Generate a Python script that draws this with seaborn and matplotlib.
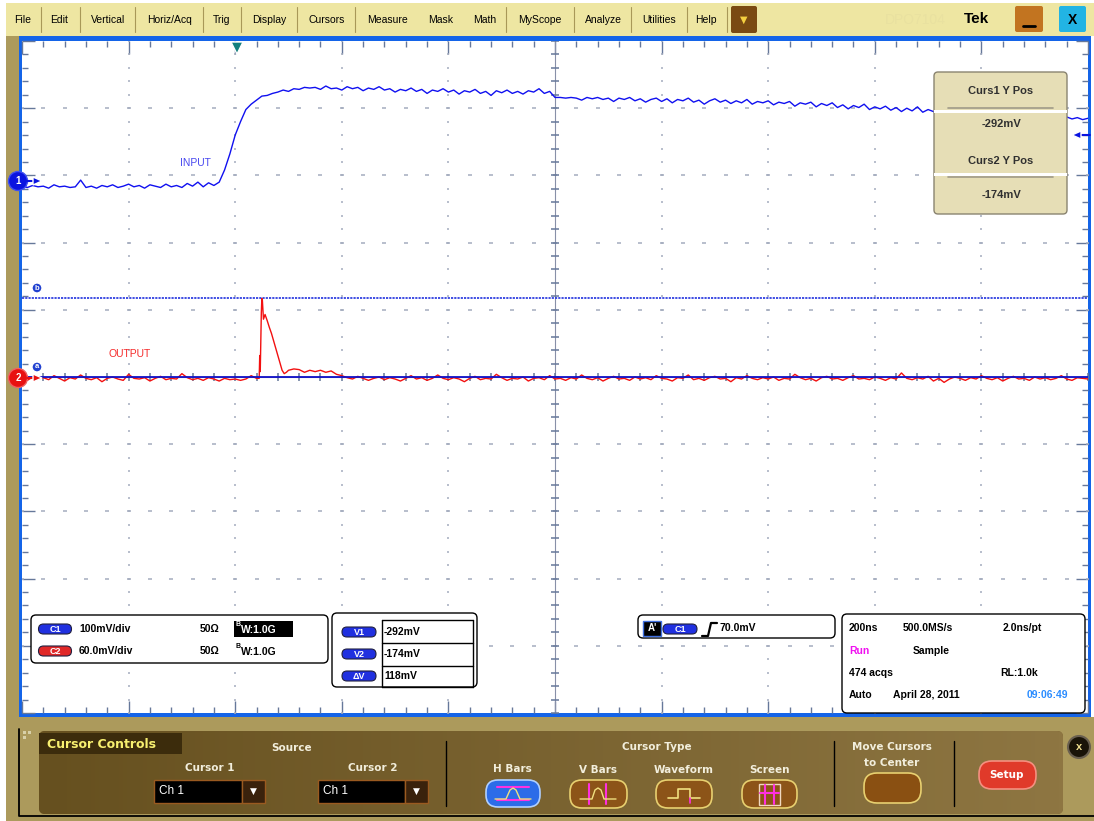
# capture oscilloscope : INPUT / OUTPUT
import numpy as np
import pandas as pd
import matplotlib
matplotlib.use("Agg")
import matplotlib.pyplot as plt
import seaborn as sns
from matplotlib.patches import Rectangle, FancyBboxPatch, Polygon, Circle
from matplotlib.colors import LinearSegmentedColormap

t_in = list(range(-400, 1601, 10))
v_in = [
    # ligne de base avant le front
    2.84, 2.82, 2.85, 2.83, 2.84, 2.81, 2.86, 2.83, 2.84, 2.82,
    2.83, 2.93, 2.82, 2.84, 2.81, 2.85, 2.83, 2.86, 2.82, 2.84,
    2.87, 2.83, 2.85, 2.81, 2.86, 2.84, 2.82, 2.87, 2.83, 2.85,
    2.82, 2.88, 2.84, 2.90, 2.83, 2.89, 2.85,
    # front montant
    2.90, 3.08, 3.32, 3.60, 3.80, 3.98, 4.06, 4.12, 4.18, 4.19,
    4.22, 4.24, 4.27, 4.25, 4.29, 4.28, 4.31, 4.30,
    # palier
    4.31, 4.28, 4.33, 4.29, 4.30, 4.27, 4.32, 4.29, 4.31, 4.26,
    4.30, 4.28, 4.32, 4.27, 4.29, 4.24, 4.28, 4.26, 4.30, 4.25,
    4.28, 4.22, 4.27, 4.25, 4.29, 4.24, 4.27, 4.21, 4.26, 4.24,
    4.28, 4.22, 4.25, 4.19, 4.26, 4.23, 4.27, 4.22, 4.25, 4.21,
    4.26, 4.24, 4.29, 4.22, 4.25,
    # lente décroissance
    4.16, 4.16, 4.15, 4.16, 4.15, 4.12, 4.16, 4.14, 4.16, 4.13,
    4.15, 4.10, 4.15, 4.13, 4.16, 4.11, 4.14, 4.09, 4.13, 4.15,
    4.10, 4.14, 4.08, 4.13, 4.11, 4.15, 4.09, 4.12, 4.06, 4.11,
    4.14, 4.09, 4.12, 4.07, 4.11, 4.08, 4.13, 4.06, 4.10, 4.08,
    4.11, 4.05, 4.09, 4.07, 4.10, 4.03, 4.08, 4.06, 4.09, 4.02,
    4.07, 4.04, 4.08, 4.01, 4.05, 3.99, 4.04, 4.01, 4.06, 3.98,
    4.02, 3.99, 4.03, 3.97, 4.01, 3.95, 4.00, 3.96, 4.02, 3.94,
    3.98, 3.95, 3.93, 3.97, 3.92, 3.95, 3.91, 3.94, 3.90, 3.93,
    3.89, 3.92, 3.88, 3.91, 3.87, 3.90, 3.88, 3.86, 3.89, 3.87,
    3.85, 3.88, 3.86, 3.84, 3.87, 3.85, 3.87, 3.84, 3.86, 3.83,
    3.85,
]

t_spike = [45, 46, 47, 49, 50, 51, 53, 56, 60, 64, 68, 72, 76, 80, 84, 88, 92, 96]
t_out = list(range(-400, 41, 10)) + t_spike + list(range(100, 201, 10)) + list(range(210, 1601, 10))
v_out = [
    -0.02, -0.05, 0.00, -0.03, -0.01, -0.04, 0.02, -0.02, -0.06, -0.01,
    -0.03, 0.03, -0.02, -0.04, -0.01, -0.07, -0.02, 0.00, -0.03, -0.05,
    0.04, -0.02, -0.03, -0.01, -0.06, -0.02, 0.01, -0.04, -0.02, -0.03,
    0.05, -0.01, -0.04, -0.02, -0.05, -0.01, -0.03, -0.06, -0.02, -0.04,
    -0.03, -0.05, -0.03, 0.02, -0.02,
    # pic
    -0.02, 0.32, 0.08, 0.95, 1.17, 1.14, 0.86, 0.93, 0.84, 0.74,
    0.65, 0.54, 0.43, 0.32, 0.21, 0.10, 0.05, 0.07,
    # petite bosse
    0.10, 0.12, 0.11, 0.07, 0.10, 0.08, 0.10, 0.07, 0.09, 0.04, 0.02,
    # ligne de base
    -0.01, -0.03, 0.01, -0.02, -0.05, -0.02, 0.00, -0.04, -0.01, -0.03,
    -0.06, -0.02, 0.02, -0.03, -0.01, -0.05, -0.02, 0.03, -0.02, -0.04,
    -0.01, -0.03, -0.07, -0.02, 0.01, -0.04, -0.02, -0.03, 0.04, -0.01,
    -0.05, -0.02, -0.03, 0.00, -0.06, -0.02, -0.01, -0.04, 0.02, -0.03,
    -0.02, -0.05, -0.01, -0.03, 0.03, -0.02, -0.04, -0.01, -0.06, -0.02,
    0.01, -0.03, -0.02, -0.05, 0.00, -0.03, -0.01, -0.04, 0.02, -0.02,
    -0.03, -0.06, -0.01, -0.02, 0.03, -0.04, -0.02, -0.05, -0.01, 0.01,
    -0.03, -0.02, -0.07, -0.01, -0.03, 0.02, -0.02, -0.04, -0.01, -0.03,
    0.00, -0.05, -0.02, -0.03, 0.04, -0.01, -0.04, -0.02, -0.06, -0.01,
    0.01, -0.03, -0.02, -0.05, -0.01, 0.02, -0.03, -0.02, -0.04, 0.00,
    -0.02, -0.05, -0.01, -0.03, 0.06, -0.02, -0.04, -0.01, -0.03, 0.01,
    -0.06, -0.02, -0.08, -0.03, 0.00, -0.02, -0.05, -0.01, -0.03, 0.02,
    -0.02, -0.04, -0.01, -0.06, -0.02, 0.01, -0.03, -0.02, -0.05, 0.00,
    -0.03, -0.01, -0.04, -0.02, 0.02, -0.03, -0.05, -0.01, -0.02, -0.03,
]

cursor_a = 0.0
cursor_b = 1.18
curs_readout = ["-292mV", "-174mV"]
delta_v = "118mV"

menu_items = ["File", "Edit", "Vertical", "Horiz/Acq", "Trig", "Display", "Cursors",
              "Measure", "Mask", "Math", "MyScope", "Analyze", "Utilities", "Help"]
menu_x = [23, 59, 108, 170, 222, 269, 327, 387, 441, 485, 540, 603, 659, 706]
menu_sep = [41, 80, 135, 203, 241, 297, 355, 506, 574, 631, 687, 727]

W, H = 1094, 821
AX_L, AX_R, AX_T, AX_B = 22, 1088, 41, 713

BLUE_FRAME = "#1464E8"
KHAKI = "#AC9A5C"
TICK_C = "#66789A"
GRID_C = "#A4ACBE"

sns.set_style("white")
plt.rcParams["font.family"] = ["Liberation Sans", "DejaVu Sans"]

fig = plt.figure(figsize=(W / 100, H / 100), dpi=100)
fig.patch.set_facecolor("white")


def px_axes(a):
    a.set_xlim(0, W)
    a.set_ylim(H, 0)
    a.axis("off")


def rect(a, x0, y0, x1, y1, fc, ec="none", lw=0, z=1, **kw):
    p = Rectangle((x0, y0), x1 - x0, y1 - y0, facecolor=fc, edgecolor=ec, lw=lw, zorder=z, **kw)
    a.add_patch(p)
    return p


def rbox(a, x0, y0, x1, y1, r, fc, ec="none", lw=0, z=1):
    p = FancyBboxPatch((x0, y0), x1 - x0, y1 - y0, boxstyle=f"round,pad=0,rounding_size={r}",
                       facecolor=fc, edgecolor=ec, lw=lw, zorder=z)
    a.add_patch(p)
    return p


def txt(a, x, y, s, size=8, color="black", weight="normal", ha="center", z=5, **kw):
    a.text(x, y, s, fontsize=size, color=color, fontweight=weight, ha=ha, va="center", zorder=z, **kw)


def pill(a, xc, yc, w, h, fc, label):
    rbox(a, xc - w / 2, yc - h / 2, xc + w / 2, yc + h / 2, h / 2, fc, ec="#202040", lw=0.8, z=6)
    txt(a, xc, yc + 0.5, label, size=6.5, color="white", weight="bold", z=7)


# ---------- fond : barre de menu, cadre, panneau du bas ----------
ax_bg = fig.add_axes([0, 0, 1, 1], zorder=0)
px_axes(ax_bg)
rect(ax_bg, 6, 3, W, 36, "#EEE6A2")
for xs in menu_sep:
    ax_bg.plot([xs, xs], [7, 32], color="#A89858", lw=0.8, zorder=2)
for lab, xm in zip(menu_items, menu_x):
    txt(ax_bg, xm, 20, lab, size=7.5)
rbox(ax_bg, 731, 6, 757, 33, 2, "#7A4A12", z=2)
txt(ax_bg, 744, 20, "▼", size=7, color="#F5D040", family="DejaVu Sans")
txt(ax_bg, 915, 20, "DPO7104", size=10, color="#E9E1A0")
txt(ax_bg, 977, 19, "Tek", size=11, color="black", weight="bold")
rbox(ax_bg, 1015, 6, 1043, 32, 2, "#C27420", z=2)
ax_bg.plot([1023, 1035], [26, 26], color="black", lw=2, zorder=3)
rbox(ax_bg, 1059, 6, 1086, 32, 2, "#22B4E4", z=2)
txt(ax_bg, 1072, 20, "X", size=10, weight="bold")

rect(ax_bg, 6, 36, 19, 717, KHAKI)
rect(ax_bg, 19, 36, 1091, 717, BLUE_FRAME)
rect(ax_bg, 6, 717, W, H, KHAKI)
ax_bg.plot([19, 19, W], [729, 816, 816], color="black", lw=1.3, zorder=2)

panel = rbox(ax_bg, 39, 731, 1063, 814, 6, "#735A28", z=2)
grad = np.linspace(0, 1, 256).reshape(1, -1)
cmap_panel = LinearSegmentedColormap.from_list("panel", ["#66501F", "#8E7642"])
im = ax_bg.imshow(grad, extent=[39, 1063, 814, 731], cmap=cmap_panel, aspect="auto", zorder=3)
im.set_clip_path(panel)
for dx, dy in [(23, 731), (28, 731), (23, 736)]:
    rect(ax_bg, dx, dy, dx + 3, dy + 3, "#D8D0A8", z=4)

rect(ax_bg, 39, 733, 182, 754, "#3C2C0C", z=4)
txt(ax_bg, 47, 744, "Cursor Controls", size=9, color="#F8F070", weight="bold", ha="left", family="DejaVu Sans")
CREAM = "#F2EEDC"
for s, x, y in [("Source", 292, 748), ("Cursor 1", 210, 768), ("Cursor 2", 373, 768),
                ("H Bars", 512, 769), ("Cursor Type", 657, 747), ("V Bars", 598, 770),
                ("Waveform", 684, 770), ("Screen", 769, 770), ("Move Cursors", 892, 747),
                ("to Center", 892, 763)]:
    txt(ax_bg, x, y, s, size=7.5, color=CREAM, weight="bold", family="DejaVu Sans")
for x0, x1, xa in [(154, 242, 265), (318, 405, 428)]:
    rect(ax_bg, x0, 780, x1, 803, "black", ec="#9A5A20", lw=1, z=4)
    rect(ax_bg, x1, 780, xa, 803, "#3A220C", ec="#9A5A20", lw=1, z=4)
    txt(ax_bg, x0 + 5, 791, "Ch 1", size=8.5, color="white", ha="left")
    txt(ax_bg, (x1 + xa) / 2, 791, "▼", size=6.5, color="white", family="DejaVu Sans")
for xd in [446, 834, 954]:
    ax_bg.plot([xd, xd], [741, 806], color="black", lw=1, zorder=4)

# boutons
rbox(ax_bg, 486, 780, 540, 807, 12, "#2C6CE8", ec="#B0D0FF", lw=1.2, z=4)
ax_bg.plot([497, 529], [787, 787], color="#FF30E0", lw=1.5, zorder=5)
ax_bg.plot([497, 529], [800, 800], color="#FF30E0", lw=1.5, zorder=5)
ax_bg.plot([495, 506, 510, 513, 516, 520, 531], [799, 799, 790, 788, 790, 799, 799], color="#F0E080", lw=1, zorder=5)
for x0, x1 in [(570, 627), (656, 712), (742, 797)]:
    rbox(ax_bg, x0, 780, x1, 808, 12, "#8C5418", ec="#E8D070", lw=1.2, z=4)
ax_bg.plot([589, 589], [784, 804], color="#FF30E0", lw=1.5, zorder=5)
ax_bg.plot([606, 606], [784, 804], color="#FF30E0", lw=1.5, zorder=5)
ax_bg.plot([580, 592, 595, 598, 601, 604, 616], [799, 799, 790, 788, 790, 799, 799], color="#F0E080", lw=1, zorder=5)
ax_bg.plot([668, 678, 678, 690, 690, 700], [798, 798, 789, 789, 798, 798], color="#F0E080", lw=1.2, zorder=5)
ax_bg.plot([690, 690], [798, 803], color="#FF30E0", lw=1.2, zorder=5)
rect(ax_bg, 759, 784, 780, 805, "none", ec="#F0D8C0", lw=1, z=5)
ax_bg.plot([765, 765], [785, 804], color="#FF30E0", lw=1.5, zorder=5)
ax_bg.plot([774, 774], [785, 804], color="#FF30E0", lw=1.5, zorder=5)
ax_bg.plot([760, 779], [793, 793], color="#FF30E0", lw=1.5, zorder=5)
rbox(ax_bg, 864, 773, 921, 803, 13, "#8A5012", ec="#E8D070", lw=1.2, z=4)
rbox(ax_bg, 979, 761, 1036, 789, 13, "#E03A2A", ec="#F49080", lw=1.2, z=4)
txt(ax_bg, 1007, 775, "Setup", size=7.5, color="white", weight="bold", family="DejaVu Sans")
ax_bg.add_patch(Circle((1079, 747), 11, facecolor="#1A1408", edgecolor="#6A6050", lw=1.5, zorder=4))
txt(ax_bg, 1079, 747, "x", size=8, color="#F0E090", weight="bold")

# ---------- grille de l'oscilloscope et traces (seaborn) ----------
ax = fig.add_axes([AX_L / W, 1 - AX_B / H, (AX_R - AX_L) / W, (AX_B - AX_T) / H], zorder=1)
ax.set_facecolor("white")
for sp in ax.spines.values():
    sp.set_visible(False)

x_major = np.arange(-400, 1601, 200)
x_minor = np.arange(-400, 1601, 40)
y_major = np.arange(-5, 6, 1)
y_minor = np.round(np.arange(-5, 5.01, 0.2), 2)
for xm in x_major[1:-1]:
    if xm == 600:
        continue
    ax.plot([xm] * len(y_minor), y_minor, ls="none", marker="|", ms=1.6, mew=1.1, color=GRID_C, zorder=1)
for ym in y_major[1:-1]:
    if ym == 0:
        continue
    ax.plot(x_minor, [ym] * len(x_minor), ls="none", marker="_", ms=2.2, mew=1.1, color=GRID_C, zorder=1)
ax.axvline(600, color="#8890A8", lw=0.8, zorder=1)
ax.axhline(0, color="#8890A8", lw=0.8, zorder=1)
ax.plot([600] * len(y_minor), y_minor, ls="none", marker="_", ms=6, mew=1.1, color=TICK_C, zorder=1)
ax.plot(x_minor, [0] * len(x_minor), ls="none", marker="|", ms=6, mew=1.1, color=TICK_C, zorder=1)

df_in = pd.DataFrame({"t": t_in, "v": v_in})
df_out = pd.DataFrame({"t": t_out, "v": v_out})
sns.lineplot(data=df_out, x="t", y="v", ax=ax, color="#F21010", lw=1.0, estimator=None, sort=False, zorder=3)
sns.lineplot(data=df_in, x="t", y="v", ax=ax, color="#1010F0", lw=1.0, estimator=None, sort=False, zorder=3)
ax.axhline(cursor_a, color="#1010C8", lw=1.3, zorder=4)
ax.axhline(cursor_b, color="#3040E0", lw=1.3, ls=(0, (1.2, 0.6)), zorder=2)

ax.text(-74, 3.18, "INPUT", color="#4848F0", fontsize=7.5, ha="center", va="center", zorder=5)
ax.text(-198, 0.34, "OUTPUT", color="#F52A2A", fontsize=7.5, ha="center", va="center", zorder=5)

ax.set_xlim(-400, 1600)
ax.set_ylim(-5, 5)
ax.set_xticks(x_major)
ax.set_xticks(x_minor, minor=True)
ax.set_yticks(y_major)
ax.set_yticks(y_minor, minor=True)
ax.tick_params(which="both", direction="in", top=True, right=True, bottom=True, left=True,
               labelbottom=False, labelleft=False, color=TICK_C, width=1)
ax.tick_params(which="major", length=9)
ax.tick_params(which="minor", length=4.5)
ax.set(xlabel="", ylabel="")

# ---------- éléments superposés ----------
ax_top = fig.add_axes([0, 0, 1, 1], zorder=2)
px_axes(ax_top)

# marqueur de déclenchement
ax_top.add_patch(Polygon([(231, 42), (243, 42), (237, 54)], closed=True, facecolor="#14807E", zorder=5))
# marqueurs de voies
ax_top.add_patch(Circle((18, 181), 9.5, facecolor="#0A14E0", edgecolor="#4050F0", lw=1, zorder=6))
txt(ax_top, 18, 181, "1", size=7, color="white", weight="bold", z=7)
ax_top.plot([27, 34], [181, 181], color="#0A14E0", lw=1.5, zorder=6)
ax_top.add_patch(Polygon([(33, 177), (33, 185), (42, 181)], closed=True, facecolor="#0A14E0", zorder=6))
ax_top.add_patch(Circle((18, 378), 9.5, facecolor="#E81010", edgecolor="#F06060", lw=1, zorder=6))
txt(ax_top, 18, 378, "2", size=7, color="white", weight="bold", z=7)
ax_top.plot([27, 34], [378, 378], color="#E81010", lw=1.5, zorder=6)
ax_top.add_patch(Polygon([(33, 374), (33, 382), (42, 378)], closed=True, facecolor="#E81010", zorder=6))
for lab, yy in [("b", 288), ("a", 367)]:
    ax_top.add_patch(Circle((37, yy), 5, facecolor="#2040D0", zorder=6))
    txt(ax_top, 37, yy, lab, size=5.5, color="white", weight="bold", z=7)
ax_top.plot([1080, 1090], [135, 135], color="#0A14E0", lw=1.5, zorder=6)
ax_top.add_patch(Polygon([(1072, 135), (1081, 131), (1081, 139)], closed=True, facecolor="#0A14E0", zorder=6))

# boîte des curseurs
rbox(ax_top, 934, 72, 1067, 214, 4, "#E6DEB6", ec="#8A8470", lw=1, z=5)
rect(ax_top, 934, 110, 1067, 113, "white", z=6)
rect(ax_top, 934, 173, 1067, 176, "white", z=6)
ax_top.plot([948, 1053], [108, 108], color="#A09A88", lw=1.2, zorder=6)
ax_top.plot([948, 1053], [177, 177], color="#A09A88", lw=1.2, zorder=6)
txt(ax_top, 1001, 91, "Curs1 Y Pos", size=8, color="#303030", weight="bold", z=7)
txt(ax_top, 1001, 124, curs_readout[0], size=8, color="#303030", weight="bold", z=7)
txt(ax_top, 1001, 161, "Curs2 Y Pos", size=8, color="#303030", weight="bold", z=7)
txt(ax_top, 1001, 195, curs_readout[1], size=8, color="#303030", weight="bold", z=7)

# boîtes d'information du bas
rbox(ax_top, 31, 615, 328, 663, 5, "white", ec="black", lw=1, z=5)
pill(ax_top, 55, 629, 33, 10, "#2030E0", "C1")
pill(ax_top, 55, 651, 33, 10, "#E02828", "C2")
txt(ax_top, 79, 629, "100mV/div", size=7.5, weight="bold", ha="left", z=7)
txt(ax_top, 79, 651, "60.0mV/div", size=7.5, weight="bold", ha="left", z=7)
txt(ax_top, 200, 629, "50Ω", size=7.5, weight="bold", ha="left", z=7)
txt(ax_top, 200, 651, "50Ω", size=7.5, weight="bold", ha="left", z=7)
rect(ax_top, 234, 621, 293, 637, "black", z=6)
txt(ax_top, 236, 624, "B", size=5, color="white", weight="bold", ha="left", z=7)
txt(ax_top, 241, 630, "W:1.0G", size=7.5, color="white", weight="bold", ha="left", z=7)
txt(ax_top, 236, 646, "B", size=5, weight="bold", ha="left", z=7)
txt(ax_top, 241, 652, "W:1.0G", size=7.5, weight="bold", ha="left", z=7)

rbox(ax_top, 332, 613, 477, 687, 5, "white", ec="black", lw=1, z=5)
for yy in [620, 643, 666, 687]:
    ax_top.plot([382, 473], [yy, yy], color="black", lw=1, zorder=6)
for xx in [382, 473]:
    ax_top.plot([xx, xx], [620, 687], color="black", lw=1, zorder=6)
for lab, val, yy in [("V1", curs_readout[0], 632), ("V2", curs_readout[1], 654), ("ΔV", delta_v, 676)]:
    pill(ax_top, 359, yy, 34, 10, "#2030E0", lab)
    txt(ax_top, 384, yy, val, size=7.5, weight="bold", ha="left", z=7)

rbox(ax_top, 638, 615, 835, 638, 5, "white", ec="black", lw=1, z=5)
rect(ax_top, 643, 621, 661, 636, "black", ec="#4070E0", lw=1, z=6)
txt(ax_top, 652, 628, "A'", size=7, color="white", weight="bold", z=7)
pill(ax_top, 680, 629, 34, 10, "#2030E0", "C1")
ax_top.plot([702, 708, 711, 717], [636, 636, 623, 623], color="black", lw=1.6, zorder=7)
txt(ax_top, 719, 628, "70.0mV", size=7.5, weight="bold", ha="left", z=7)

rbox(ax_top, 842, 614, 1085, 713, 5, "white", ec="black", lw=1, z=5)
for s, x, y, c in [("200ns", 849, 628, "black"), ("500.0MS/s", 903, 628, "black"),
                   ("2.0ns/pt", 1003, 628, "black"), ("Run", 849, 651, "#F010F0"),
                   ("Sample", 913, 651, "black"), ("474 acqs", 849, 673, "black"),
                   ("RL:1.0k", 1000, 673, "black"), ("Auto", 849, 695, "black"),
                   ("April 28, 2011", 893, 695, "black"), ("09:06:49", 1027, 695, "#2A8CFF")]:
    txt(ax_top, x, y, s, size=7.5, color=c, weight="bold", ha="left", z=7)

fig.savefig("out.png", dpi=100)
